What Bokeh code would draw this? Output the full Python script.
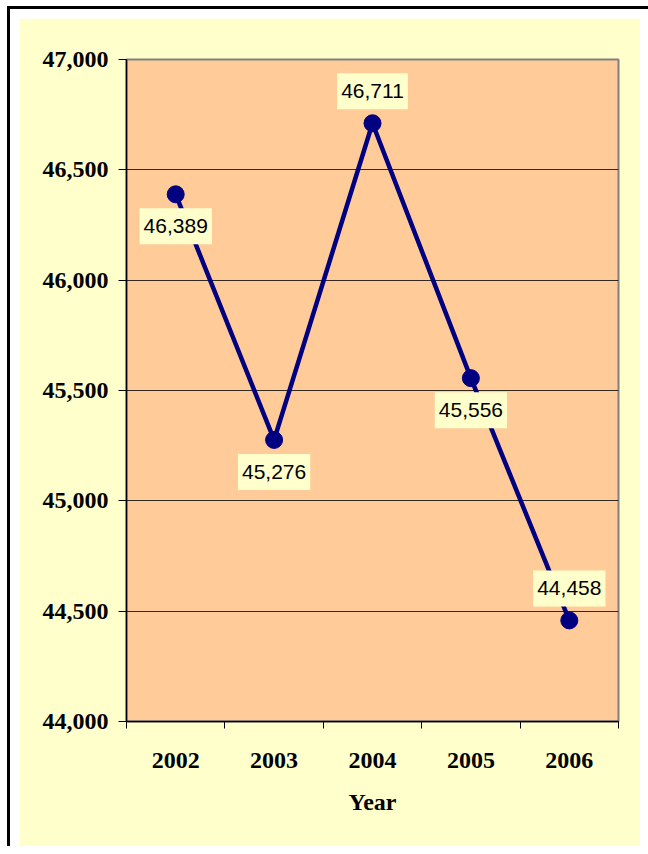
from bokeh.plotting import figure
from bokeh.models import Range1d, FixedTicker, NumeralTickFormatter, Label, ColumnDataSource
from bokeh.layouts import column
from bokeh.embed import file_html
from bokeh.resources import INLINE

years = ["2002", "2003", "2004", "2005", "2006"]
values = [46389, 45276, 46711, 45556, 44458]
label_side = ["below", "below", "above", "below", "above"]
y_ticks = [44000, 44500, 45000, 45500, 46000, 46500, 47000]

xs = [i + 0.5 for i in range(len(years))]
src = ColumnDataSource(dict(x=xs, y=values))

p = figure(width=621, height=828, output_backend="svg", toolbar_location=None,
           x_range=Range1d(0, len(years)), y_range=Range1d(44000, 47000),
           min_border_left=107, min_border_top=41, min_border_right=22, min_border_bottom=125)
p.margin = (9, 8, 0, 9)
p.background_fill_color = "#FFCC99"
p.border_fill_color = "#FFFFCC"
p.outline_line_color = "#808080"
p.outline_line_width = 2

p.line("x", "y", source=src, line_color="#000080", line_width=4.5)
p.scatter("x", "y", source=src, marker="circle", size=17, fill_color="#000080", line_color="#000080")

for x, v, side in zip(xs, values, label_side):
    p.add_layout(Label(x=x, y=v, text=f"{v:,}", text_align="center", text_baseline="middle",
                       y_offset=(32 if side == "above" else -32),
                       text_font="Liberation Sans", text_font_size="21px", text_color="black",
                       background_fill_color="#FFFFCC", padding=(4, 4, 11, 11)))

# x axis
xa = p.xaxis[0]
xa.ticker = FixedTicker(ticks=xs, minor_ticks=list(range(len(years) + 1)))
xa.major_label_overrides = {x: y for x, y in zip(xs, years)}
xa.major_tick_line_color = None
xa.major_tick_out = 0
xa.minor_tick_out = 7
xa.minor_tick_in = 0
xa.minor_tick_line_color = "black"
xa.axis_line_color = "black"
xa.axis_line_width = 1.5
xa.major_label_text_font = "Liberation Serif"
xa.major_label_text_font_style = "bold"
xa.major_label_text_font_size = "24px"
xa.major_label_text_color = "black"
xa.major_label_standoff = 24
xa.axis_label = "Year"
xa.axis_label_text_font = "Liberation Serif"
xa.axis_label_text_font_style = "bold"
xa.axis_label_text_font_size = "24px"
xa.axis_label_text_color = "black"
xa.axis_label_standoff = 18

# y axis
ya = p.yaxis[0]
ya.ticker = FixedTicker(ticks=y_ticks)
ya.formatter = NumeralTickFormatter(format="0,0")
ya.major_tick_out = 8
ya.major_tick_in = 0
ya.minor_tick_line_color = None
ya.axis_line_color = "black"
ya.axis_line_width = 1.5
ya.major_tick_line_color = "black"
ya.major_label_text_font = "Liberation Serif"
ya.major_label_text_font_style = "bold"
ya.major_label_text_font_size = "24px"
ya.major_label_text_color = "black"
ya.major_label_standoff = 10

p.xgrid.grid_line_color = None
p.ygrid.grid_line_color = "#000000"
p.ygrid.grid_line_width = 1
p.ygrid.grid_line_alpha = 0.8

layout = column(p, margin=(6, 0, 0, 7),
                styles={"border-top": "3px solid black", "border-left": "3px solid black"})

open("out.html", "w").write(file_html(layout, INLINE))
